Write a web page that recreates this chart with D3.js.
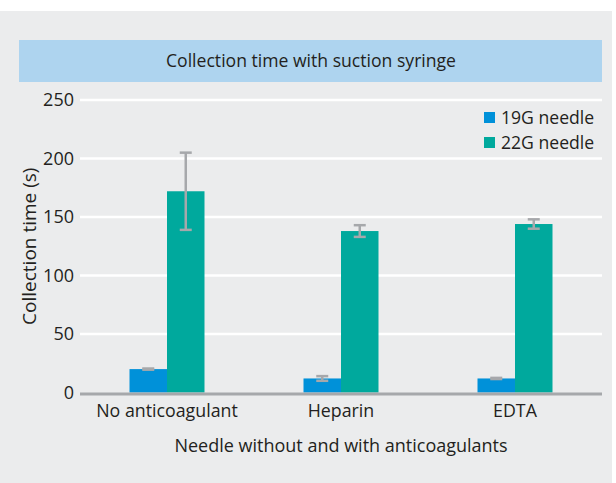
<!DOCTYPE html>
<html>
  <head>
    <meta charset="utf-8">
    <script src="https://d3js.org/d3.v7.min.js"></script>
    <title>Collection time with suction syringe</title>
    <style>
      body { margin: 0px; background: #fff; }
      text { font-family: "Open Sans", sans-serif; fill: #231f20; }
    </style>
  </head>
  <body>
    <svg width="616" height="483"></svg>
    <script>
      // data
      const groups = ['No anticoagulant', 'Heparin', 'EDTA'];
      const series = ['19G needle', '22G needle'];
      const needle19 = [20, 12, 12];
      const needle22 = [172, 138, 144];
      const err19 = [0.5, 2, 0.5];
      const err22 = [33, 5, 4];
      const yTicks = [0, 50, 100, 150, 200, 250];
      const colors = ['#0091d9', '#00a99d'];

      const svg = d3.select('svg');
      const margin = { left: 80, right: 14, top: 100, bottom: 91 };
      const width = +svg.attr('width');
      const height = +svg.attr('height');

      // panel + title band
      svg.append('rect')
          .attr('x', 0).attr('y', 11)
          .attr('width', 612).attr('height', height - 11)
          .attr('fill', '#ebeced');
      svg.append('rect')
          .attr('x', 19).attr('y', 40)
          .attr('width', 583).attr('height', 42)
          .attr('fill', '#aed4ef');
      svg.append('text')
          .attr('x', 311).attr('y', 67)
          .attr('text-anchor', 'middle')
          .style('font-size', '17.6px')
          .text('Collection time with suction syringe');

      const x0 = d3.scaleBand()
          .domain(groups)
          .range([margin.left, width - margin.right])
          .paddingInner(0.569)
          .paddingOuter(0.2845);
      const x1 = d3.scaleBand()
          .domain(series)
          .range([0, x0.bandwidth()]);
      const y = d3.scaleLinear()
          .domain([0, 250])
          .range([height - margin.bottom + 0.5, margin.top]);

      // gridlines
      svg.append('g').selectAll('line')
        .data(yTicks.filter(d => d > 0))
        .enter().append('line')
          .attr('x1', margin.left).attr('x2', width - margin.right)
          .attr('y1', d => y(d)).attr('y2', d => y(d))
          .attr('stroke', '#fff')
          .attr('stroke-width', 2.5);

      // y axis labels
      const yAxis = d3.axisLeft(y).tickValues(yTicks).tickSize(0).tickPadding(6);
      const yAxisG = svg.append('g')
          .attr('transform', `translate(${margin.left},0)`)
          .call(yAxis);
      yAxisG.select('.domain').remove();
      yAxisG.selectAll('text')
          .style('font-size', '18px')
          .attr('fill', '#231f20');

      const rows = groups.map((g, i) => ({
        group: g,
        vals: [
          { s: series[0], v: needle19[i], e: err19[i] },
          { s: series[1], v: needle22[i], e: err22[i] }
        ]
      }));

      const gG = svg.append('g').selectAll('g')
        .data(rows)
        .enter().append('g')
          .attr('transform', d => `translate(${x0(d.group)},0)`);

      gG.selectAll('rect')
        .data(d => d.vals)
        .enter().append('rect')
          .attr('x', d => x1(d.s))
          .attr('width', x1.bandwidth())
          .attr('y', d => y(d.v))
          .attr('height', d => y(0) - y(d.v))
          .attr('fill', (d, i) => colors[i]);

      // error bars
      const eb = gG.selectAll('g.err')
        .data(d => d.vals)
        .enter().append('g')
          .attr('class', 'err')
          .attr('stroke', '#a6a8ab');
      eb.append('line')
          .attr('x1', d => x1(d.s) + x1.bandwidth() / 2)
          .attr('x2', d => x1(d.s) + x1.bandwidth() / 2)
          .attr('y1', d => y(d.v + d.e))
          .attr('y2', d => y(d.v - d.e))
          .attr('stroke-width', 2.5);
      eb.selectAll('line.cap')
        .data(d => [d.v + d.e, d.v - d.e].map(t => ({ s: d.s, t: t })))
        .enter().append('line')
          .attr('class', 'cap')
          .attr('x1', d => x1(d.s) + x1.bandwidth() / 2 - 6)
          .attr('x2', d => x1(d.s) + x1.bandwidth() / 2 + 6)
          .attr('y1', d => y(d.t))
          .attr('y2', d => y(d.t))
          .attr('stroke-width', 2.5);

      // x axis
      svg.append('line')
          .attr('x1', margin.left).attr('x2', width - margin.right)
          .attr('y1', y(0) + 1.5).attr('y2', y(0) + 1.5)
          .attr('stroke', '#a6a8ab')
          .attr('stroke-width', 3);
      svg.append('g').selectAll('text')
        .data(groups)
        .enter().append('text')
          .attr('x', d => x0(d) + x0.bandwidth() / 2)
          .attr('y', 417)
          .attr('text-anchor', 'middle')
          .style('font-size', '17.8px')
          .text(d => d);

      svg.append('text')
          .attr('x', 341)
          .attr('y', 452)
          .attr('text-anchor', 'middle')
          .style('font-size', '18px')
          .text('Needle without and with anticoagulants');

      svg.append('text')
          .attr('transform', `translate(36, ${(y(0) + y(250)) / 2}) rotate(-90)`)
          .attr('text-anchor', 'middle')
          .style('font-size', '19px')
          .text('Collection time (s)');

      // legend
      const leg = svg.append('g').selectAll('g')
        .data(series)
        .enter().append('g')
          .attr('transform', (d, i) => `translate(484, ${112 + i * 25})`);
      leg.append('rect')
          .attr('width', 11).attr('height', 11)
          .attr('fill', (d, i) => colors[i]);
      leg.append('text')
          .attr('x', 17).attr('y', 11.5)
          .style('font-size', '17.6px')
          .text(d => d);
    </script>
  </body>
</html>
